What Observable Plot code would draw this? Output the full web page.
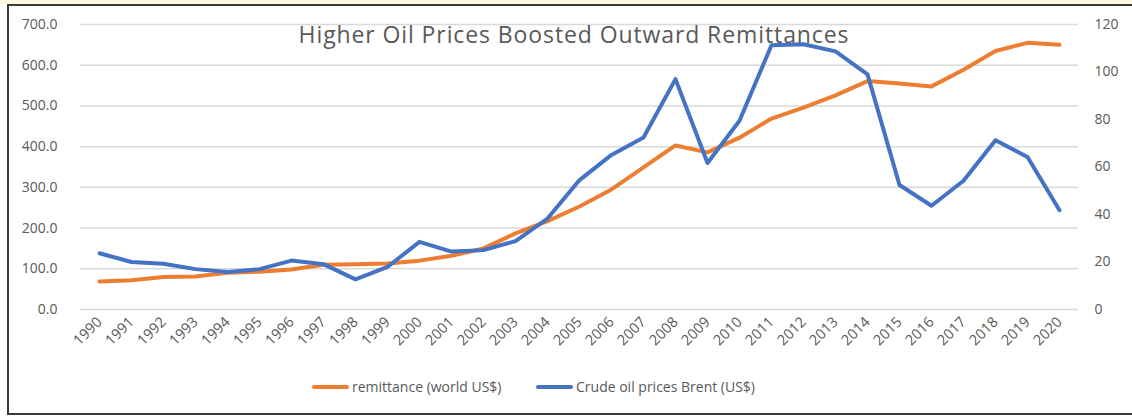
<!DOCTYPE html>
<html><head><meta charset="utf-8">
<script src="https://cdn.jsdelivr.net/npm/d3@7"></script>
<script src="https://cdn.jsdelivr.net/npm/@observablehq/plot@0.6"></script>
<style>
body{margin:0;background:#fff;}
#wrap{position:relative;width:1132px;height:416px;overflow:hidden;background:#fff;font-family:"Open Sans",sans-serif;color:#595959;}
#band{position:absolute;left:0;top:0;width:1132px;height:4px;background:#fcf9dc;}
#frame{position:absolute;left:7px;top:4px;width:1140px;height:407px;border:2px solid #3a3a3a;box-sizing:content-box;}
.layer{position:absolute;left:0;top:0;}
#title{position:absolute;left:0;width:1148px;top:18px;text-align:center;font-size:23px;letter-spacing:0.9px;white-space:nowrap;}
.sw{position:absolute;height:4px;border-radius:2px;top:385px;width:37px;}
.lt{position:absolute;top:377px;font-size:14px;white-space:nowrap;}
</style></head>
<body>
<div id="wrap">
  <div id="band"></div>
  <div id="frame"></div>
  <div id="l1" class="layer"></div>
  <div id="l2" class="layer"></div>
  <div id="title">Higher Oil Prices Boosted Outward Remittances</div>
  <div class="sw" style="left:312px;background:#ED7D31"></div>
  <div class="lt" style="left:352px">remittance (world US$)</div>
  <div class="sw" style="left:536px;background:#4472C4"></div>
  <div class="lt" style="left:576px">Crude oil prices Brent (US$)</div>
</div>
<script>
const years = ["1990","1991","1992","1993","1994","1995","1996","1997","1998","1999","2000","2001","2002","2003","2004","2005","2006","2007","2008","2009","2010","2011","2012","2013","2014","2015","2016","2017","2018","2019","2020"];
const remittance = [69, 72, 80, 81, 90, 93, 98, 110, 111, 113, 120, 132, 150, 187, 217, 253, 295, 349, 403, 386, 422, 469, 496, 526, 561, 555, 548, 589, 635, 655, 650];
const oil = [23.7, 20.0, 19.3, 17.0, 15.8, 17.0, 20.6, 19.1, 12.7, 17.9, 28.5, 24.4, 25.0, 28.8, 38.3, 54.5, 65.1, 72.4, 97.0, 61.7, 79.5, 111.3, 111.7, 108.7, 99.0, 52.4, 43.7, 54.2, 71.3, 64.2, 41.8];
const leftTicks = [0, 100, 200, 300, 400, 500, 600, 700];
const rightTicks = [0, 20, 40, 60, 80, 100, 120];

const data = years.map((y, i) => ({year: y, rem: remittance[i], oil: oil[i]}));

const common = {
  width: 1132, height: 360,
  marginLeft: 80, marginRight: 54, marginTop: 24, marginBottom: 51,
  style: {fontFamily: "'Open Sans', sans-serif", fontSize: "14px", color: "#595959", background: "transparent", overflow: "visible"}
};

const p1 = Plot.plot({
  ...common,
  x: {type: "point", domain: years, padding: 0.5, label: null},
  y: {domain: [0, 700], label: null},
  marks: [
    Plot.gridY(leftTicks, {stroke: "#d9d9d9", strokeOpacity: 1, strokeWidth: 1.5}),
    Plot.axisY(leftTicks, {tickSize: 0, tickPadding: 23, tickFormat: d3.format(".1f"), label: null, fontSize: 14}),
    Plot.axisX({tickSize: 0, tickRotate: -45, tickPadding: 10, label: null, fontSize: 14.5}),
    Plot.line(data, {x: "year", y: "rem", stroke: "#ED7D31", strokeWidth: 4, strokeLinejoin: "round", strokeLinecap: "round"})
  ]
});
document.getElementById("l1").appendChild(p1);

const p2 = Plot.plot({
  ...common,
  x: {type: "point", domain: years, padding: 0.5, axis: null},
  y: {domain: [0, 120], label: null},
  marks: [
    Plot.axisY(rightTicks, {anchor: "right", tickSize: 0, tickPadding: 16, tickFormat: d3.format("d"), label: null, fontSize: 14}),
    Plot.line(data, {x: "year", y: "oil", stroke: "#4472C4", strokeWidth: 4, strokeLinejoin: "round", strokeLinecap: "round"})
  ]
});
document.getElementById("l2").appendChild(p2);
</script>
</body></html>
